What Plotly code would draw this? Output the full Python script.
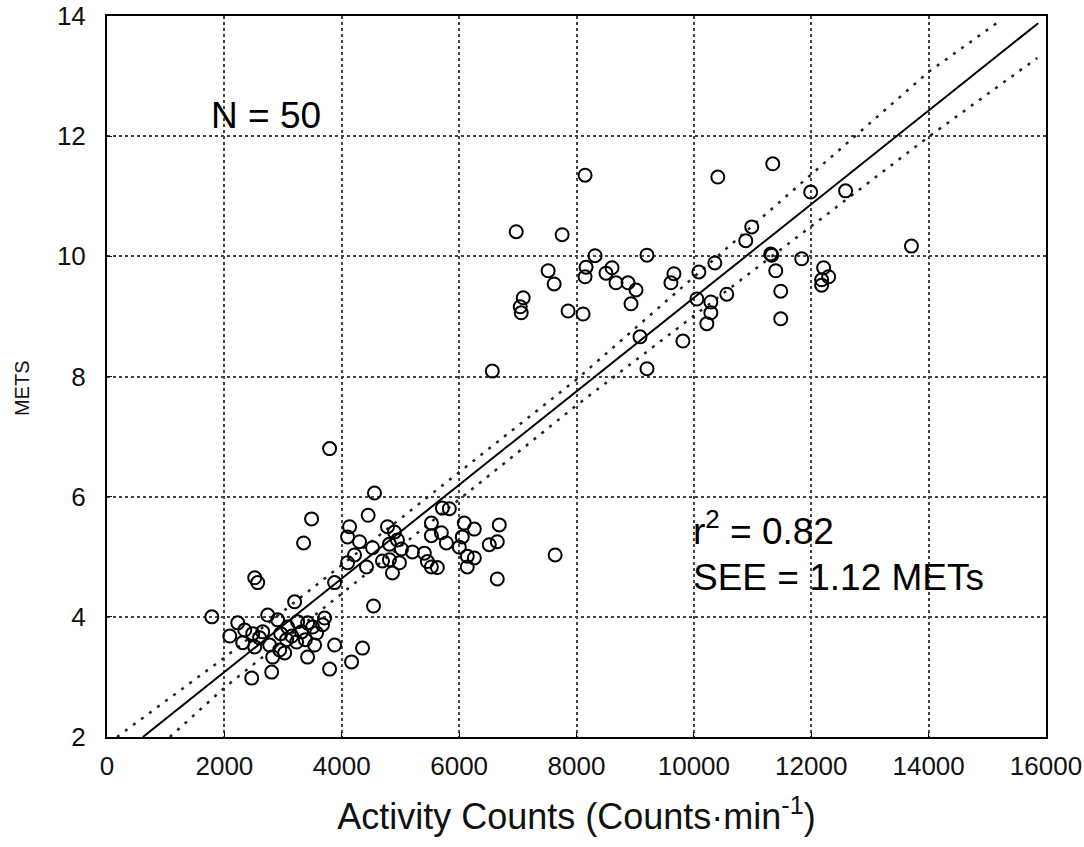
import plotly.graph_objects as go

# ---- scatter data (Activity counts, METs) ----
high_x = [6973, 7755, 8146, 7517, 7619, 7092, 7041, 7058, 7857, 8112, 8316, 9201, 8163, 8146,
          8503, 8605, 8673, 8878, 9014, 8929, 9660, 9609, 10085, 10357, 10051, 10289, 10289,
          10221, 9082, 9813, 9201, 6565, 10408, 11344, 11990, 12585, 10986, 10884, 11327, 11310,
          11837, 13707, 11395, 12211, 12296, 12177, 12177, 11480, 10561, 11480]
high_y = [10.41, 10.36, 11.35, 9.76, 9.54, 9.31, 9.16, 9.06, 9.09, 9.04, 10.01, 10.02, 9.82, 9.66,
          9.72, 9.81, 9.56, 9.56, 9.44, 9.21, 9.71, 9.56, 9.74, 9.89, 9.29, 9.24, 9.06,
          8.88, 8.66, 8.59, 8.13, 8.09, 11.32, 11.54, 11.07, 11.09, 10.49, 10.26, 10.02, 10.04,
          9.96, 10.17, 9.76, 9.81, 9.66, 9.61, 9.52, 9.42, 9.37, 8.96]

mid_x = [4558, 4450, 5714, 5833, 4779, 4898, 4949, 5017, 4524, 4813, 4694, 4813, 4983, 4864,
         5204, 5408, 5459, 5527, 5629, 5527, 5527, 5697, 5782, 6088, 6259, 6054, 6003, 6139,
         6259, 6139, 6514, 6650, 6684, 6650, 7636, 4541, 3793, 3486, 3350, 4133, 4099, 4303,
         4218, 4099, 4422, 3878]
mid_y = [6.06, 5.69, 5.81, 5.80, 5.50, 5.41, 5.28, 5.13, 5.15, 5.21, 4.93, 4.95, 4.90, 4.73,
         5.08, 5.06, 4.92, 4.83, 4.82, 5.56, 5.35, 5.40, 5.23, 5.56, 5.46, 5.33, 5.16, 5.01,
         4.98, 4.83, 5.20, 5.25, 5.53, 4.63, 5.03, 4.18, 6.80, 5.63, 5.23, 5.50, 5.33, 5.25,
         5.03, 4.90, 4.83, 4.57]

low_x = [2517, 2568, 1786, 2092, 2228, 2347, 2313, 2483, 2517, 2653, 2738, 2908, 2772, 2823,
         2806, 2466, 2942, 3027, 3078, 3061, 3197, 3248, 3316, 3231, 3418, 3503, 3537, 3418,
         3707, 3673, 3571, 3878, 3793, 4167, 4354, 2600, 2960, 3150, 3380]
low_y = [4.65, 4.57, 4.00, 3.68, 3.90, 3.78, 3.57, 3.72, 3.50, 3.75, 4.03, 3.95, 3.53, 3.33,
         3.08, 2.98, 3.45, 3.40, 3.83, 3.62, 4.25, 3.92, 3.75, 3.58, 3.90, 3.83, 3.53, 3.33,
         3.98, 3.87, 3.73, 3.53, 3.13, 3.25, 3.48, 3.65, 3.72, 3.68, 3.62]

# ---- regression line and confidence bands ----
fit_x = [612, 15867]
fit_y = [2.0, 13.88]
upper_band_x = [170, 2000, 8000, 14000, 15187]
upper_band_y = [2.0, 3.32, 7.95, 13.07, 13.9]
lower_band_x = [1071, 2000, 8000, 14000, 15850]
lower_band_y = [2.0, 2.82, 7.52, 11.99, 13.3]

x_ticks = [0, 2000, 4000, 6000, 8000, 10000, 12000, 14000, 16000]
y_ticks = [2, 4, 6, 8, 10, 12, 14]

FONT = "Liberation Sans, Arial, sans-serif"

fig = go.Figure()
for bx, by in [(upper_band_x, upper_band_y), (lower_band_x, lower_band_y)]:
    fig.add_trace(go.Scatter(x=bx, y=by, mode="lines",
                             line=dict(color="#222", width=2.5, dash="3px,7px"),
                             hoverinfo="skip", showlegend=False))
fig.add_trace(go.Scatter(x=fit_x, y=fit_y, mode="lines",
                         line=dict(color="black", width=2), showlegend=False))
fig.add_trace(go.Scatter(x=low_x + mid_x + high_x, y=low_y + mid_y + high_y, mode="markers",
                         marker=dict(symbol="circle-open", size=13, color="black",
                                     line=dict(width=2, color="black")),
                         showlegend=False))

axis_common = dict(showline=True, linecolor="black", linewidth=2, mirror=True,
                   showgrid=True, gridcolor="#444", gridwidth=2, griddash="dot",
                   zeroline=False, ticks="inside", ticklen=5, tickcolor="black",
                   automargin=False, ticklabeloverflow="allow",
                   tickfont=dict(family=FONT, size=26, color="#111"))

fig.update_xaxes(range=[0, 16000], tickvals=x_ticks, ticktext=[str(v) for v in x_ticks],
                 title=dict(text="Activity Counts (Counts·min<sup>-1</sup>)",
                            font=dict(family=FONT, size=36, color="#111"), standoff=24),
                 ticklabelstandoff=5, **axis_common)
fig.update_yaxes(range=[2, 14], tickvals=y_ticks, ticktext=[str(v) for v in y_ticks],
                 ticklabelstandoff=14, **axis_common)

# y-axis title placed as a rotated annotation (far left, like the reference)
fig.add_annotation(xref="paper", yref="paper", x=-0.0905, y=0.484, text="METS",
                   textangle=-90, showarrow=False, xanchor="center", yanchor="middle",
                   font=dict(family=FONT, size=20, color="#111"))

fig.add_annotation(x=1740, y=12.35, text="N = 50", showarrow=False, xanchor="left",
                   font=dict(family=FONT, size=37, color="black"))
fig.add_annotation(x=9950, y=5.47, text="r<sup>2</sup> = 0.82", showarrow=False, xanchor="left",
                   font=dict(family=FONT, size=37, color="black"))
fig.add_annotation(x=9950, y=4.65, text="SEE = 1.12 METs", showarrow=False, xanchor="left",
                   font=dict(family=FONT, size=37, color="black"))

fig.update_layout(width=1084, height=847, paper_bgcolor="white", plot_bgcolor="white",
                  margin=dict(l=107, r=38, t=16, b=110), showlegend=False)

# remove the page's default body margin so the figure sits at the window's top-left
fig.write_html("out.html", config={"displayModeBar": False},
               post_script="document.body.style.margin='0';")
